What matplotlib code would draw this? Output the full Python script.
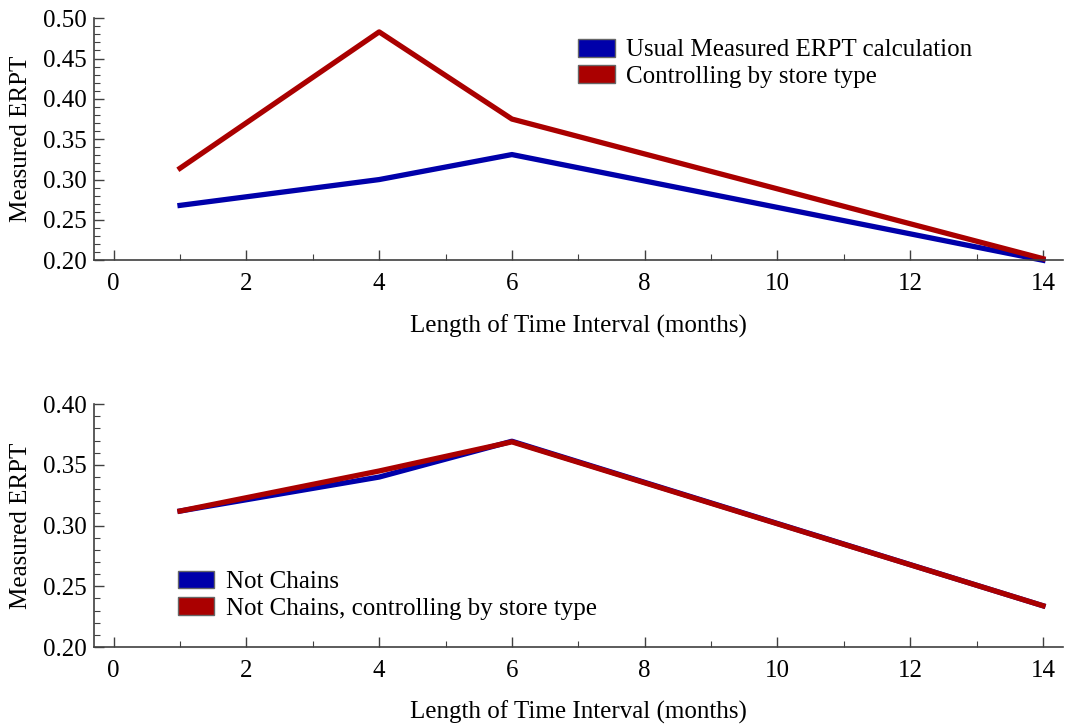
import numpy as np
import matplotlib.pyplot as plt
from matplotlib.patches import Patch
from matplotlib.ticker import MultipleLocator

plt.rcParams['font.family'] = ['Liberation Serif', 'DejaVu Serif']

months = [1, 4, 6, 14]
usual = [0.268, 0.300, 0.331, 0.200]
store_type = [0.314, 0.483, 0.375, 0.202]
not_chains = [0.312, 0.340, 0.3695, 0.234]
not_chains_store = [0.312, 0.345, 0.369, 0.234]

blue = '#0000aa'
red = '#aa0000'

fig = plt.figure(figsize=(10.65, 7.27), dpi=100)
ax1 = fig.add_axes([0.088, 0.642, 0.910, 0.333])
ax2 = fig.add_axes([0.088, 0.110, 0.910, 0.334])

def style(ax, ylo, yhi):
    ax.set_xlim(-0.3, 14.3)
    ax.set_ylim(ylo, yhi)
    ax.spines['top'].set_visible(False)
    ax.spines['right'].set_visible(False)
    for s in ('left', 'bottom'):
        ax.spines[s].set_color('0.25')
        ax.spines[s].set_linewidth(1.2)
    ax.xaxis.set_major_locator(MultipleLocator(2))
    ax.xaxis.set_minor_locator(MultipleLocator(1))
    ax.yaxis.set_major_locator(MultipleLocator(0.05))
    ax.yaxis.set_minor_locator(MultipleLocator(0.01))
    ax.yaxis.set_major_formatter(plt.FormatStrFormatter('%.2f'))
    ax.tick_params(which='major', direction='in', length=7, width=1, color='0.25', labelsize=18)
    ax.tick_params(axis='x', which='major', pad=9)
    ax.tick_params(axis='y', which='major', pad=5)
    ax.tick_params(which='minor', direction='in', length=4, width=0.8, color='0.25')
    ax.set_xlabel('Length of Time Interval (months)', fontsize=18, labelpad=14)
    ax.set_ylabel('Measured ERPT', fontsize=18, labelpad=8)

def legend(ax, handles, anchor):
    ax.legend(handles=handles, loc='upper left', bbox_to_anchor=anchor, frameon=False,
              fontsize=18, handlelength=1.45, handleheight=0.72, handletextpad=0.45,
              labelspacing=0.15, borderpad=0, borderaxespad=0)

ax1.plot(months, usual, color=blue, lw=3.8, clip_on=False)
ax1.plot(months, store_type, color=red, lw=3.8, clip_on=False)
style(ax1, 0.20, 0.50)
legend(ax1, [Patch(facecolor=blue, edgecolor='0.4', label='Usual Measured ERPT calculation'),
             Patch(facecolor=red, edgecolor='0.4', label='Controlling by store type')],
       (0.50, 0.915))

ax2.plot(months, not_chains, color=blue, lw=3.8, clip_on=False)
ax2.plot(months, not_chains_store, color=red, lw=3.8, clip_on=False)
style(ax2, 0.20, 0.40)
legend(ax2, [Patch(facecolor=blue, edgecolor='0.4', label='Not Chains'),
             Patch(facecolor=red, edgecolor='0.4', label='Not Chains, controlling by store type')],
       (0.087, 0.315))

fig.savefig('out.png', dpi=100)
